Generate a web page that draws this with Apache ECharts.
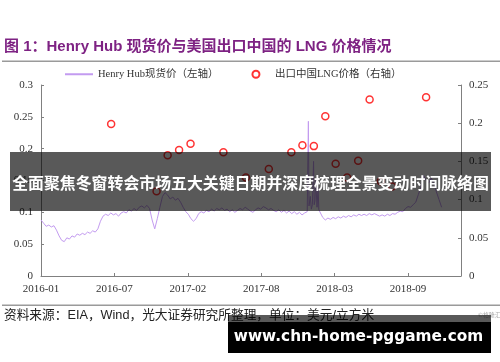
<!DOCTYPE html>
<html>
<head>
<meta charset="utf-8">
<script src="https://cdn.jsdelivr.net/npm/echarts@6/dist/echarts.min.js"></script>
<style>html,body{margin:0;padding:0;background:#fff;}#c{width:500px;height:362px;}</style>
</head>
<body>
<div id="c"></div>
<script>
// ---- data ----
const xTickLabels = ['2016-01', '2016-07', '2017-02', '2017-08', '2018-03', '2018-09'];
const hhStart = '2016-01-04'; // weekly Henry Hub spot series start (week index 0)
const hhWeekly = [
  0.088, 0.083, 0.078, 0.080, 0.077, 0.079, 0.072, 0.063, 0.056, 0.054,
  0.060, 0.058, 0.063, 0.061, 0.066, 0.064, 0.067, 0.065, 0.069, 0.067,
  0.071, 0.069, 0.074, 0.086, 0.094, 0.097, 0.095, 0.099, 0.096, 0.098,
  0.094, 0.099, 0.101, 0.099, 0.104, 0.102, 0.106, 0.103, 0.108, 0.110,
  0.107, 0.111, 0.106, 0.088, 0.074, 0.090, 0.108, 0.125, 0.131, 0.127,
  0.121, 0.124, 0.119, 0.122, 0.116, 0.108, 0.101, 0.097, 0.090, 0.086,
  0.090, 0.098, 0.101, 0.099, 0.103, 0.101, 0.105, 0.102, 0.106, 0.104,
  0.107, 0.103, 0.105, 0.101, 0.104, 0.100, 0.103, 0.106, 0.104, 0.108,
  0.105, 0.102, 0.100, 0.104, 0.107, 0.105, 0.109, 0.107, 0.104, 0.106,
  0.103, 0.101, 0.104, 0.100, 0.103, 0.099, 0.102, 0.098, 0.101, 0.097,
  0.100, 0.096, 0.099, 0.101, 0.108, 0.112, 0.118, 0.110, 0.105, 0.092,
  0.088, 0.091, 0.089, 0.092, 0.090, 0.093, 0.091, 0.094, 0.092, 0.095,
  0.093, 0.096, 0.094, 0.097, 0.095, 0.097, 0.095, 0.098, 0.096, 0.098,
  0.096, 0.094, 0.096, 0.094, 0.097, 0.095, 0.098, 0.097, 0.100, 0.102,
  0.101, 0.106, 0.109, 0.108, 0.112, 0.116, 0.128, 0.140, 0.158, 0.150,
  0.146, 0.154, 0.145, 0.132, 0.120, 0.108
];
// daily spikes during the Jan-2018 cold snap (position in weeks since start)
const hhSpikeWeeks = [103.2, 103.45, 103.7, 104.2, 104.6, 105.2, 105.45, 105.7, 106.3, 106.8, 107.2, 107.5];
const hhSpikeVals  = [0.100, 0.243, 0.110, 0.125, 0.105, 0.115, 0.180, 0.112, 0.150, 0.108, 0.140, 0.104];

const lngMonths = ['2016-07', '2016-11', '2016-12', '2017-01', '2017-02', '2017-05', '2017-07', '2017-09',
  '2017-11', '2017-12', '2018-01', '2018-02', '2018-03', '2018-04', '2018-05', '2018-06', '2018-07', '2018-08', '2018-11'];
const lngValues = [0.199, 0.111, 0.158, 0.165, 0.173, 0.162, 0.129, 0.140,
  0.162, 0.171, 0.170, 0.209, 0.147, 0.129, 0.151, 0.231, 0.124, 0.117, 0.234];

// ---- build ----
const WEEK = 7 * 864e5;
const t0 = Date.parse(hhStart + 'T00:00:00Z');
let hhData = hhWeekly.map((v, i) => [i, v]);
hhSpikeWeeks.forEach((w, i) => hhData.push([w, hhSpikeVals[i]]));
hhData.sort((a, b) => a[0] - b[0]);
const lngData = lngMonths.map((m, i) => {
  const [y, mo] = m.split('-').map(Number);
  return [(Date.UTC(y, mo - 1, 12) - t0) / WEEK, lngValues[i]];
});
const TICK = 28.4;

const serif = '"Liberation Serif", "Noto Sans CJK SC", serif';
const axisCol = '#808080';
const lineCol = '#c39bf0';
const chart = echarts.init(document.getElementById('c'), null, {renderer: 'canvas'});
chart.setOption({
  animation: false,
  backgroundColor: '#fff',
  grid: {left: 41, top: 85, width: 420, height: 191, containLabel: false},
  legend: {
    left: 65, top: 69, padding: 0, itemWidth: 28, itemHeight: 7, itemGap: 33,
    textStyle: {fontFamily: serif, fontSize: 10.5, color: '#333'},
    data: [
      {name: 'Henry Hub现货价（左轴）', icon: 'path://M0 0H28V2H0Z', itemStyle: {color: lineCol}},
      {name: '出口中国LNG价格（右轴）'}
    ]
  },
  xAxis: {
    type: 'value', min: 0, max: 162.5, interval: TICK,
    splitLine: {show: false},
    axisLine: {lineStyle: {color: axisCol}},
    axisTick: {inside: true, length: 3, lineStyle: {color: axisCol}},
    axisLabel: {
      margin: 8, fontFamily: serif, fontSize: 11, color: '#333', showMaxLabel: false,
      formatter: v => { const k = Math.round(v / TICK); return Math.abs(v - k * TICK) < 0.01 ? (xTickLabels[k] || '') : ''; }
    }
  },
  yAxis: [{
    type: 'value', min: 0, max: 0.3, interval: 0.05, position: 'left',
    splitLine: {show: false},
    axisLine: {show: true, lineStyle: {color: axisCol}},
    axisTick: {show: true, inside: true, length: 3, lineStyle: {color: axisCol}},
    axisLabel: {margin: 8, fontFamily: serif, fontSize: 11, color: '#333'}
  }, {
    type: 'value', min: 0, max: 0.25, interval: 0.05, position: 'right',
    splitLine: {show: false},
    axisLine: {show: true, lineStyle: {color: axisCol}},
    axisTick: {show: true, inside: true, length: 3, lineStyle: {color: axisCol}},
    axisLabel: {margin: 8, fontFamily: serif, fontSize: 11, color: '#333'}
  }],
  series: [{
    name: 'Henry Hub现货价（左轴）', type: 'line', yAxisIndex: 0, data: hhData,
    symbol: 'none', lineStyle: {color: lineCol, width: 1}, itemStyle: {color: lineCol}, z: 2
  }, {
    name: '出口中国LNG价格（右轴）', type: 'scatter', yAxisIndex: 1, data: lngData,
    symbol: 'circle', symbolSize: 7,
    itemStyle: {color: '#fff', borderColor: '#ff0000', borderWidth: 1.5}, z: 3
  }],
  graphic: [
    {type: 'text', z: 50, style: {x: 4, y: 47, text: '图 1：Henry Hub 现货价与美国出口中国的 LNG 价格情况',
      font: 'bold 15px "Liberation Sans", "Noto Sans CJK SC", sans-serif', fill: '#7e2283', verticalAlign: 'middle'}},
    {type: 'rect', z: 50, shape: {x: 2, y: 60.5, width: 498, height: 1.5}, style: {fill: '#9a9a9a'}},
    {type: 'rect', z: 50, shape: {x: 2, y: 304.5, width: 498, height: 1.5}, style: {fill: '#9a9a9a'}},
    {type: 'text', z: 50, style: {x: 4, y: 315, text: '资料来源：EIA，Wind，光大证券研究所整理，单位：美元/立方米',
      font: '12.7px "Liberation Sans", "Noto Sans CJK SC", sans-serif', fill: '#222', verticalAlign: 'middle'}},
    {type: 'text', z: 50, style: {x: 478, y: 315, text: '©格隆汇',
      font: '6px "Noto Sans CJK SC", sans-serif', fill: '#aaa', verticalAlign: 'middle'}},
    {type: 'rect', z: 100, shape: {x: 10, y: 152, width: 481, height: 59}, style: {fill: 'rgba(0,0,0,0.65)'}},
    {type: 'text', z: 101, style: {x: 250.5, y: 182.5, text: '全面聚焦冬窗转会市场五大关键日期并深度梳理全景变动时间脉络图',
      font: 'bold 15.9px "Noto Sans CJK SC", sans-serif', fill: '#fff', align: 'center', verticalAlign: 'middle'}},
    {type: 'rect', z: 100, shape: {x: 228, y: 315, width: 263, height: 7}, style: {fill: 'rgba(0,0,0,0.65)'}},
    {type: 'rect', z: 100, shape: {x: 228, y: 322, width: 263, height: 31}, style: {fill: '#000'}},
    {type: 'text', z: 101, style: {x: 358.5, y: 337.5, text: 'www.chn-home-pggame.com',
      font: 'bold 15.3px "DejaVu Sans", sans-serif', fill: '#fff', align: 'center', verticalAlign: 'middle'}}
  ]
});
</script>
</body>
</html>
